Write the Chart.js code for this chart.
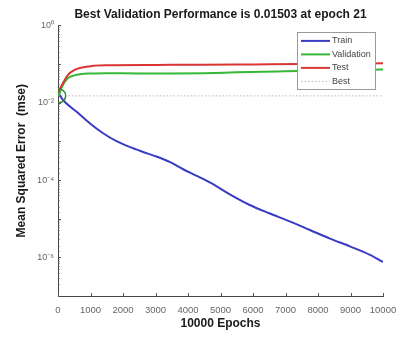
<!DOCTYPE html>
<html>
<head>
<meta charset="utf-8">
<script src="https://cdn.jsdelivr.net/npm/chart.js@4.4.1/dist/chart.umd.min.js"></script>
<style>
  html, body { margin: 0; padding: 0; background: #ffffff; }
  #c { display: block; }
</style>
</head>
<body>
<canvas id="c" width="396" height="337"></canvas>
<script>
// ---- data ----
const titleText = "Best Validation Performance is 0.01503 at epoch 21";
const xTitle = "10000 Epochs";
const yTitle = "Mean Squared Error  (mse)";
const xTicks = [0, 1000, 2000, 3000, 4000, 5000, 6000, 7000, 8000, 9000, 10000];
const yTickLabels = { "0": "10\u2070", "-2": "10\u207B\u00B2", "-4": "10\u207B\u2074", "-6": "10\u207B\u2076" };
const seriesNames = ["Train", "Validation", "Test", "Best"];

const trainEpochs = [0, 160, 575, 985, 1400, 1800, 2200, 2600, 3050, 3450, 3850, 4250, 4700, 5300, 5900, 6500, 7150, 7750, 8350, 9000, 9600, 10000];
const trainMse = [0.018, 0.0116, 0.0058, 0.0029, 0.0016, 0.00101, 7.2e-4, 5.4e-4, 4.0e-4, 2.9e-4, 1.9e-4, 1.3e-4, 8.4e-5, 4.2e-5, 2.26e-5, 1.38e-5, 8.4e-6, 5.1e-6, 3.1e-6, 1.9e-6, 1.16e-6, 7.6e-7];

const valEpochs = [0, 21, 100, 300, 500, 1000, 1500, 2500, 3500, 4500, 5500, 7000, 8500, 10000];
const valMse = [0.018, 0.01503, 0.024, 0.043, 0.051, 0.057, 0.058, 0.057, 0.057, 0.058, 0.061, 0.065, 0.069, 0.072];

const testEpochs = [0, 21, 150, 300, 500, 1000, 1500, 3000, 4500, 6000, 7500, 9000, 10000];
const testMse = [0.019, 0.02, 0.032, 0.052, 0.070, 0.088, 0.093, 0.095, 0.096, 0.098, 0.100, 0.103, 0.105];

const bestEpoch = 21;
const bestValue = 0.01503;
const xRange = [0, 10000];
const yRange = [1e-7, 1];

// ---- build datasets ----
const pts = (xs, ys) => xs.map((x, i) => ({ x: x, y: ys[i] }));
const FONT = '"Liberation Sans", Arial, Helvetica, sans-serif';

const colors = { train: '#3a3ac4', val: '#35b835', test: '#d93535', best: '#b8b8b8', circle: '#2e8b3a' };

const datasets = [
  { label: seriesNames[0], data: pts(trainEpochs, trainMse), borderColor: colors.train, borderWidth: 2, pointRadius: 0, cubicInterpolationMode: 'monotone', order: 3 },
  { label: seriesNames[1], data: pts(valEpochs, valMse), borderColor: colors.val, borderWidth: 2, pointRadius: 0, cubicInterpolationMode: 'monotone', order: 2 },
  { label: seriesNames[2], data: pts(testEpochs, testMse), borderColor: colors.test, borderWidth: 2, pointRadius: 0, cubicInterpolationMode: 'monotone', order: 1 },
  { label: seriesNames[3], data: pts(xRange, [bestValue, bestValue]), borderColor: colors.best, borderWidth: 1, borderDash: [1.5, 2], pointRadius: 0, order: 4 },
  { label: 'bestPoint', hideInLegend: true, data: [{ x: bestEpoch, y: bestValue }], showLine: false, pointRadius: 7, pointBorderWidth: 1.5, pointBorderColor: colors.circle, pointBackgroundColor: 'rgba(0,0,0,0)', borderColor: colors.circle, order: 0 }
];

// inward tick marks (MATLAB style) drawn from the library's scales
const inwardTicks = {
  id: 'inwardTicks',
  afterDatasetsDraw(chart) {
    const ctx = chart.ctx, xs = chart.scales.x, ys = chart.scales.y, area = chart.chartArea;
    ctx.save();
    ctx.strokeStyle = '#555';
    ctx.lineWidth = 1;
    ctx.beginPath();
    xs.ticks.forEach(t => {
      const px = Math.round(xs.getPixelForValue(t.value)) + 0.5;
      ctx.moveTo(px, area.bottom);
      ctx.lineTo(px, area.bottom - 3);
    });
    ys.ticks.forEach(t => {
      const lg = Math.log10(t.value);
      const major = Math.abs(lg - Math.round(lg)) < 1e-6;
      const py = Math.round(ys.getPixelForValue(t.value)) + 0.5;
      ctx.moveTo(area.left, py);
      ctx.lineTo(area.left + (major ? 3 : 1.5), py);
    });
    ctx.stroke();
    ctx.restore();
  }
};

// legend box drawn inside the plot (top-right) like MATLAB
const insideLegend = {
  id: 'insideLegend',
  afterDraw(chart) {
    const ctx = chart.ctx, area = chart.chartArea;
    const items = chart.data.datasets.filter(d => !d.hideInLegend);
    const w = 78, rowH = 13.5, h = 57;
    const x0 = area.right - 86, y0 = area.top + 7;
    ctx.save();
    ctx.fillStyle = '#ffffff';
    ctx.fillRect(x0, y0, w, h);
    ctx.strokeStyle = '#9a9a9a';
    ctx.lineWidth = 1;
    ctx.strokeRect(Math.round(x0) + 0.5, Math.round(y0) + 0.5, w, h);
    ctx.font = '9px ' + FONT;
    ctx.textBaseline = 'middle';
    ctx.textAlign = 'left';
    items.forEach((d, i) => {
      const y = y0 + 8.5 + i * rowH;
      ctx.beginPath();
      ctx.strokeStyle = d.borderColor;
      ctx.lineWidth = d.borderWidth;
      ctx.setLineDash(d.borderDash || []);
      ctx.moveTo(x0 + 4, y);
      ctx.lineTo(x0 + 33, y);
      ctx.stroke();
      ctx.setLineDash([]);
      ctx.fillStyle = '#444';
      ctx.fillText(d.label, x0 + 35, y);
    });
    ctx.restore();
  }
};

new Chart(document.getElementById('c'), {
  type: 'line',
  data: { datasets: datasets },
  options: {
    responsive: false,
    animation: false,
    devicePixelRatio: 1,
    layout: { padding: { left: 0, right: 13, top: 0, bottom: 0 } },
    plugins: {
      legend: { display: false },
      tooltip: { enabled: false },
      title: {
        display: true,
        text: titleText,
        fullSize: false,
        color: '#1a1a1a',
        font: { family: FONT, size: 12, weight: 'bold' },
        padding: { top: 7, bottom: 4 }
      }
    },
    scales: {
      x: {
        type: 'linear',
        min: xRange[0], max: xRange[1],
        afterBuildTicks(scale) { scale.ticks = xTicks.map(v => ({ value: v })); },
        ticks: { color: '#666', font: { family: FONT, size: 9.5 }, padding: 9, maxRotation: 0, autoSkip: false,
                 callback(v) { return String(v); } },
        grid: { display: false, drawTicks: false, tickLength: 0 },
        border: { display: true, color: '#444', width: 1 },
        title: { display: true, text: xTitle, color: '#1a1a1a', font: { family: FONT, size: 12, weight: 'bold' }, padding: { top: 0, bottom: 6 } },
        afterFit(scale) { scale.height = 41; scale.paddingRight = 0; scale.paddingLeft = 0; }
      },
      y: {
        type: 'logarithmic',
        min: yRange[0], max: yRange[1],
        ticks: {
          color: '#666', font: { family: FONT, size: 9 }, padding: 4, autoSkip: false,
          callback(v) {
            const lg = Math.round(Math.log10(v));
            if (Math.abs(Math.log10(v) - lg) < 1e-6 && yTickLabels[String(lg)] !== undefined) return yTickLabels[String(lg)];
            return '';
          }
        },
        grid: { display: false, drawTicks: false, tickLength: 0 },
        border: { display: true, color: '#444', width: 1 },
        title: { display: true, text: yTitle, color: '#1a1a1a', font: { family: FONT, size: 12, weight: 'bold' }, padding: { top: 14, bottom: 0 } },
        afterFit(scale) { scale.width = 58; }
      }
    }
  },
  plugins: [inwardTicks, insideLegend]
});
</script>
</body>
</html>
